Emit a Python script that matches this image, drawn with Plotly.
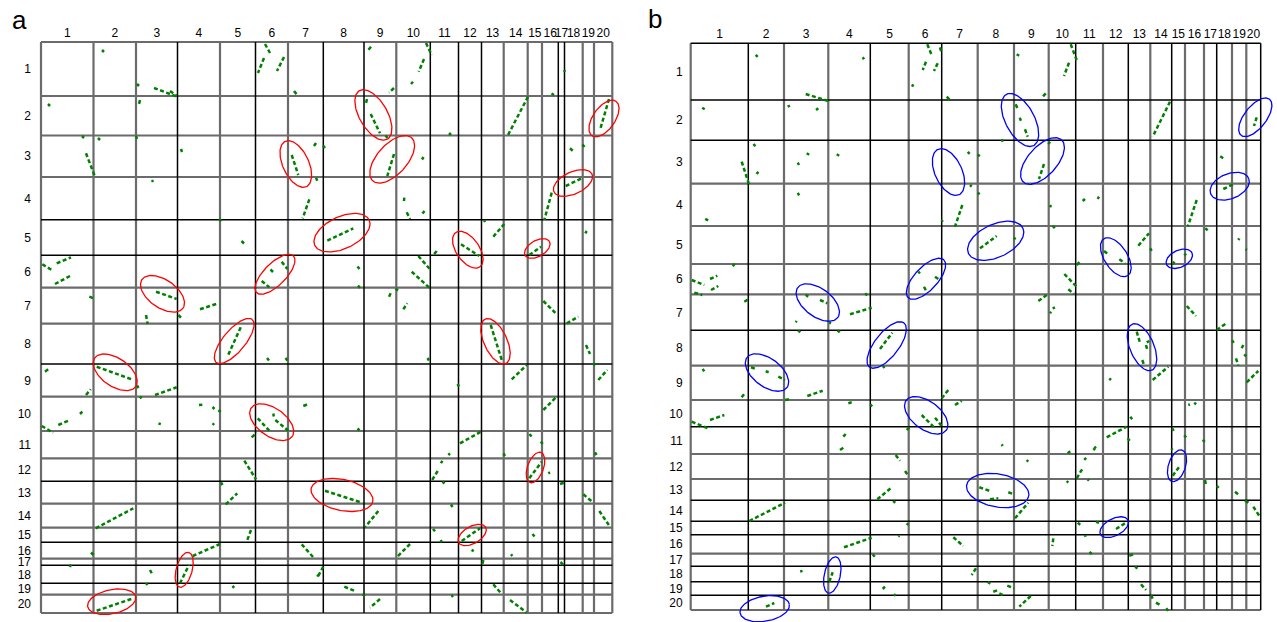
import numpy as np
import plotly.graph_objects as go

W, H = 1277, 622
chroms = [str(i) for i in range(1, 21)]

# chromosome lengths (arbitrary genome units) for both panels
a_x_len = [52.5, 42.5, 41.5, 42.5, 35.5, 32.5, 35.3, 40.7, 32.3, 34.0,
           28.2, 23.0, 22.2, 24.0, 14.3, 16.3, 6.2, 18.2, 11.3, 18.3]
a_y_len = [54.0, 39.5, 41.5, 42.7, 35.6, 32.4, 36.0, 40.3, 32.7, 34.3,
           27.3, 23.0, 22.4, 24.0, 14.6, 16.4, 6.6, 18.0, 11.4, 18.3]
b_x_len = [57.6, 35.7, 44.3, 42.0, 38.4, 33.0, 36.0, 36.3, 34.7, 27.0,
           27.3, 25.3, 22.0, 21.4, 13.3, 19.0, 12.7, 15.3, 14.3, 14.4]
b_y_len = [56.7, 40.3, 43.4, 42.3, 38.0, 30.3, 36.0, 35.4, 34.3, 26.7,
           27.3, 25.0, 21.3, 21.0, 13.4, 19.0, 12.6, 15.4, 13.6, 14.7]

# syntenic blocks (x0, y0, x1, y1) in genome coordinates
a_segments = [
    (61, 8, 63, 10), (224, 2, 229, 11), (223, 16, 217, 31), (243, 15, 236, 29),
    (96, 42, 98, 44), (113, 46, 137, 55), (129, 49, 136, 54), (253, 49, 257, 54),
    (7, 62, 9, 64), (99, 58, 98, 62), (41, 94, 43, 96), (57, 96, 59, 98),
    (95, 94, 96, 97), (140, 107, 141, 110), (275, 101, 273, 104), (282, 103.5, 284, 106),
    (330, 4.7, 326.7, 8.7), (385, 1, 390.7, 13), (383, 17, 377.7, 29.7), (372, 39.7, 370, 42),
    (353, 46, 348, 50.7), (326, 57, 325, 61), (329.7, 72, 339, 91.3), (344.5, 93.5, 346.5, 96),
    (487, 54.7, 467, 93), (510.5, 51.5, 513, 53), (523, 28, 524, 30), (568, 57, 559, 88),
    (410, 91, 408, 93), (529, 106.3, 531.7, 108.7), (541.5, 102.5, 543.5, 105), (353, 112, 346.3, 134),
    (382.5, 115, 381, 117.5), (45, 111.3, 54, 134.7), (111, 138, 112, 140), (250.7, 113, 257.3, 133),
    (275, 135.7, 276.3, 138.7), (268.3, 157.3, 261.7, 176.3), (178, 177, 180.5, 179),
    (200.5, 199, 203, 201.5), (363.3, 155.7, 363, 159), (365.7, 170.3, 369, 177),
    (383.5, 169, 381.5, 171.5), (286.3, 198.7, 312.3, 186.3), (443, 178, 444, 180),
    (452.3, 194.7, 463.3, 182), (420, 202.3, 438.3, 214), (488.3, 213, 500, 204.7),
    (510.7, 150.7, 503.3, 178), (524.7, 144, 540.7, 136.3), (545.7, 189, 544.3, 191.3),
    (1.3, 222.3, 10.7, 228), (15.7, 221.3, 30, 215.3), (14, 242, 29, 234),
    (48.3, 254.7, 52.3, 256.3), (115, 249.7, 135.7, 257), (137.3, 273, 140, 275.7),
    (105, 273, 106.7, 282), (159, 267.3, 177.3, 261.3), (220.7, 239, 228.3, 245.3),
    (229.5, 227.5, 232, 230), (240.7, 219.7, 246.3, 227), (377.3, 214, 389, 227.3),
    (395.7, 209, 391.7, 214), (316.5, 224.5, 318.5, 227), (317, 243.5, 319, 246),
    (370.7, 229.7, 389, 246.3), (348, 254.7, 349.7, 251.3), (354.5, 246.5, 357, 248.5),
    (362.3, 267.3, 366.3, 261.3), (502.3, 259, 515.7, 272.3), (525.7, 281.3, 537.3, 274.7),
    (199.7, 285.3, 186.7, 314), (226, 316, 228, 318.5), (244.5, 316, 246.5, 318.5),
    (449.7, 283, 461.3, 319.7), (545, 303, 549, 312), (552, 321, 554, 323.5),
    (470.7, 337.3, 485.7, 323), (557.3, 338, 566.3, 328), (386.5, 316, 388, 318.5),
    (4, 329.7, 8.3, 326.3), (55.7, 324.7, 90.7, 337.3), (96, 343.5, 97.5, 346),
    (45, 353, 49.7, 347.3), (99, 354.5, 100.5, 356.5), (114, 353, 135.7, 345.3),
    (416.5, 342, 418, 344.5), (0.7, 384, 12.3, 390.7), (17.3, 383, 29, 378),
    (39, 372, 41.3, 369.7), (118.3, 383, 119, 380.7), (158, 363, 161.3, 362.7),
    (171.5, 365, 173.5, 367), (177.5, 368, 179.5, 370), (171.7, 383, 173, 381.3),
    (216.7, 376.3, 228.3, 388.7), (232.3, 371.5, 232.8, 374.5), (234.3, 378, 247.3, 388.7),
    (210.7, 395.3, 215.7, 390.7), (262.3, 364, 267.3, 362), (502.3, 368, 515, 355.3),
    (316.5, 386.5, 318.5, 388.5), (419, 401.3, 440, 389.7), (488.5, 392, 490.5, 394.5),
    (500, 399.5, 501.5, 402), (203.3, 418.7, 215, 437.3), (180, 440.5, 181.5, 443),
    (184.7, 462.3, 196.3, 451.3), (54.7, 486.3, 92.3, 466.3), (210, 488, 205.7, 499.7),
    (50, 510.5, 52.5, 513), (28, 523.3, 30.5, 524.2), (139, 541.3, 148, 523),
    (151.7, 514, 179, 502), (109, 528, 110.7, 531.3), (105, 541, 106.5, 543),
    (191.3, 545.7, 193.3, 544), (55.7, 568.7, 92.3, 556.3), (260.7, 502.3, 272.3, 515.3),
    (276.3, 534.7, 277.3, 533), (409, 411.3, 407.3, 413), (462.5, 411.5, 464, 414),
    (554, 410.5, 555.5, 413), (401.3, 418.7, 400, 421.3), (396.7, 429, 390.7, 438.7),
    (401.5, 439.5, 403.5, 441.5), (488.3, 436.3, 500.7, 419.7), (509, 430.3, 507.3, 431.3),
    (519, 442, 524, 440.3), (284, 448.7, 320.7, 460.7), (542.3, 452.3, 552.3, 460.7),
    (337.3, 469, 324, 485.3), (410, 462.5, 411.5, 465), (558.3, 469, 569, 484.7),
    (392, 487, 394, 489.3), (399.7, 498, 401, 500.3), (420.7, 499, 439, 486.3),
    (491.5, 492, 493.5, 494.5), (369, 502, 355.7, 515.3), (432.3, 507.3, 431, 509.7),
    (470, 512.3, 471.3, 514), (442.3, 518, 441, 524), (519.5, 520, 522.5, 523),
    (282.3, 524.7, 276.3, 535.7), (303.3, 544.7, 313, 548.7), (321.5, 552.5, 324, 554),
    (339, 557, 329, 565.7), (410.5, 553, 412, 555), (452.3, 542.3, 460.7, 552),
    (469, 558, 485.7, 570.7),
]

b_segments = [
    (65, 11.5, 67, 13.5), (172, 14, 173.3, 16), (236.6, 1, 241.3, 12.7), (235.3, 18.4, 232, 26.7),
    (249.3, 4, 251, 10), (247, 20, 243.3, 27.7), (222.6, 41, 221.3, 43.4), (115, 50.7, 137.6, 57.7),
    (256, 53.4, 260, 57.7), (11.5, 64.5, 14, 66), (97.6, 61.7, 98.6, 64), (125.3, 66.7, 127.6, 65),
    (63, 100.5, 64.5, 103), (116, 110, 118.5, 111.5), (146, 111, 148.5, 112.5), (326, 11, 328.5, 12.5),
    (380, 1, 386, 16.7), (378.3, 19.4, 373.3, 32.7), (355, 50, 352, 53.4), (325, 61, 327, 65.7),
    (329, 74.5, 330.2, 77.5), (334.3, 86, 337, 93.4), (311, 96, 312, 98.4), (479.3, 58.4, 462, 93.4),
    (566, 74, 563.3, 82.7), (277, 108.5, 279, 110.5), (287, 111, 289, 113),
    (357.6, 100.7, 359.3, 98.4), (529.5, 113, 532.5, 115), (51, 118.4, 58.3, 141),
    (66, 130.7, 67.6, 128.4), (107, 119.4, 108.3, 121.7), (107, 149.5, 108.5, 152), (14.5, 175.5, 17.5, 177),
    (251, 178.4, 252, 176.7), (271.6, 161.7, 264.3, 183.4), (42, 223, 44, 220.5),
    (1, 236.7, 13.6, 241.7), (19.3, 235.7, 26.6, 232.4), (20.3, 246.7, 27.6, 242.7),
    (3.6, 249.4, 11.6, 251.7), (53.6, 258.4, 57.6, 256), (229.3, 228.4, 227.6, 230),
    (244.3, 233.4, 247.6, 235.7), (233.3, 243.4, 235.3, 247.4), (174.5, 250, 176.5, 252),
    (115, 251.5, 117.5, 253.5), (129.3, 256.7, 136.6, 260), (159.3, 271, 181, 264.4),
    (106, 277.7, 105, 279), (107.5, 287, 109.5, 289), (138.3, 279, 140.3, 280),
    (147, 287, 149, 289), (189.3, 305.7, 201.6, 289.4), (192, 322.5, 194, 324.5),
    (12, 325.5, 13.5, 328), (60.3, 324, 66, 326), (75, 328, 78, 329), (87.6, 333.4, 94.3, 336.7),
    (51, 354, 53.3, 351), (94.3, 356.7, 98.6, 356), (116.6, 352.7, 132, 347.4), (157.6, 360, 161, 359),
    (179.5, 361, 181.5, 363), (1, 378.4, 17, 385), (19.3, 376.7, 33.6, 371.7),
    (231, 371.7, 243.3, 384), (244.3, 374.4, 251, 382.7), (251, 355, 257.6, 346.7),
    (216, 386.7, 218.6, 384), (152.6, 393.4, 155, 390.7), (149.3, 406.7, 152.6, 404.4),
    (353.3, 120.7, 348.3, 135.7), (279.3, 141.7, 281, 143.4), (287, 149.5, 289, 151),
    (360.3, 161.7, 359.3, 164), (362, 182.5, 364, 185), (392, 157.7, 394.3, 155.7),
    (407, 155.7, 408.3, 153.4), (506, 156.7, 497, 183.4), (514.5, 185, 517, 187),
    (532.6, 145.7, 542.6, 141), (289.3, 205, 306, 192.7), (323, 194.5, 325, 196),
    (547.6, 196.7, 548.6, 195), (555, 205.7, 556, 206.7), (413.3, 207.7, 418.6, 211.7),
    (428.6, 216, 434.3, 220), (447.6, 202.4, 458.3, 190), (459.5, 205, 461, 207.5),
    (482, 221, 483.6, 218.4), (493.5, 210.5, 495.5, 212), (386, 221.7, 389.3, 218.4),
    (373.6, 230.7, 386, 243.4), (377.6, 246, 383.3, 250.7), (347.6, 257.7, 356, 251.7),
    (359.3, 270, 360.3, 268.4), (362.6, 263.4, 363.6, 265.7), (496, 262.7, 505.3, 272.7),
    (526, 286.7, 534.6, 280.7), (446, 288.4, 449.3, 299.4), (456, 299, 458.6, 297.7),
    (455.3, 301.7, 456.6, 306.7), (451.6, 316.7, 453.3, 321.7), (541.5, 297, 543, 299.5),
    (551, 305, 552.6, 301.7), (545.3, 315, 547.6, 322.4), (553.5, 311, 555.5, 313),
    (462, 336.7, 477.6, 323.4), (556, 339, 567.6, 327.7), (418.6, 335, 420.3, 336.7),
    (264.3, 361.7, 271, 357.4), (497.6, 361.7, 499.3, 361), (503.5, 359.5, 505.5, 361),
    (439.5, 373.5, 441.5, 376), (416, 394, 436, 383.4), (311, 401, 312, 402.7),
    (404.3, 405, 402.6, 406.7), (481.5, 385, 483, 387.5), (493.5, 392, 495.5, 394),
    (512, 396.5, 514, 398.5), (437, 395, 439, 397.5), (205, 411.7, 209.3, 417.4),
    (214.3, 427.7, 217.6, 432.4), (186.6, 456, 200, 445), (202.5, 457.5, 204.5, 459.5),
    (58.6, 477.7, 94.3, 459.4), (217.6, 480, 216, 481.7), (208.6, 492.4, 207.6, 493.4),
    (153.3, 504, 181, 494.4), (182, 511, 184, 513.5), (110.3, 526.7, 111, 529),
    (138.6, 538.4, 142, 529), (192, 545.7, 194.3, 543.4), (203.3, 551, 205, 552.4),
    (75.3, 563.4, 83.6, 559.7), (377, 410, 379.5, 408), (395.5, 414.5, 393.5, 416.5),
    (403.6, 405, 405.3, 403.4), (336, 416.7, 337.6, 418.4), (386, 435, 392, 425),
    (376, 437.7, 377.6, 439.4), (397, 436, 398.3, 437.4), (482, 432.4, 488.6, 423.4),
    (481, 405, 481.6, 406.7), (514.3, 436.7, 515.3, 441.7), (526, 442.5, 528, 444.5),
    (288.6, 444, 299.3, 447.7), (299.3, 456, 307.6, 455), (317.6, 449, 323.3, 451),
    (324.3, 475, 337.6, 459.4), (544.3, 448.4, 549.3, 452.7), (554.3, 457.4, 560, 460.7),
    (562.6, 463.4, 569.5, 474), (387, 479.5, 389.5, 481.5), (405.3, 478.4, 408.3, 479.4),
    (425.3, 485.7, 434.3, 480), (394.3, 491.7, 395, 493.4), (262.6, 494, 272.6, 502.7),
    (362.6, 495, 361.6, 502.7), (399, 508.5, 401, 511), (438.6, 512.4, 443.6, 510.7),
    (444.5, 523, 446.5, 525.5), (285.3, 525, 281, 531.7), (297, 538.5, 299.5, 540.5),
    (302.6, 548.4, 307.6, 546.7), (308.6, 550, 313.3, 552.4), (316.6, 542.4, 323.3, 545),
    (340, 552.7, 328.6, 563.4), (450.3, 541, 455.3, 546.7), (460.3, 551.7, 462.6, 556.7),
    (465.3, 559.4, 469.3, 561.7), (475.5, 565, 477.5, 567.5),
]

# highlighted regions (centre x, centre y, semi-major, semi-minor, tilt in degrees)
a_ellipses = [
    (332.4, 72.9, 28, 14, 60), (563, 76.5, 21, 11, -55), (254.8, 122, 25, 13, 65),
    (351.2, 117.3, 29, 15, -48), (532, 141, 21, 11, -25), (301, 190.7, 30, 16, -25),
    (426.8, 207.7, 21, 11.5, 55), (496.3, 206.5, 14, 8, -30), (234, 232.3, 26, 11, -45),
    (121.5, 251.8, 25, 14, 35), (193.2, 299, 28, 11, -50), (454.5, 299.3, 24.5, 11.5, 65),
    (74.2, 330.3, 25, 14, 35), (230.7, 380.2, 25, 14, 35), (494.5, 425.5, 16, 8, -70),
    (301, 453, 31.5, 15.5, 12), (431.2, 493, 15.5, 8.5, -30), (143.2, 527.8, 18, 8, -75),
    (70.7, 559.7, 24.5, 12, -12),
]
b_ellipses = [
    (329.3, 76.7, 29, 14.5, 62), (564.6, 74, 23, 11, -52), (257.8, 128.7, 25, 13.5, 65),
    (351.8, 117.7, 28.5, 14.5, -48), (539, 142.9, 20.5, 12.5, -22), (305, 197.5, 30, 16.5, -25),
    (425.1, 213.9, 22, 11.5, 57), (488.6, 215.5, 14, 8.5, -25), (235.3, 235.5, 26, 11.5, -47),
    (127.1, 259.2, 25, 14, 37), (196, 301.7, 28, 12, -52), (451.3, 303.9, 25, 12, 67),
    (76.3, 329.2, 25, 14, 37), (235.5, 372, 25, 14, 37), (486.3, 422.5, 16.5, 8.5, -72),
    (307, 447.2, 31.5, 16.5, 10), (423.5, 483.9, 15.5, 8.5, -28), (141.6, 531.7, 18.5, 8, -78),
    (74, 565.4, 25, 12.5, -10),
]

# ---------------- layout / styling ----------------
GRAY = "#6b6b6b"
BLACK = "#000000"
GREEN = "rgb(0,128,0)"
FONT = "Arial, Liberation Sans, sans-serif"

panels = [
    dict(name="a", xlen=a_x_len, ylen=a_y_len, segs=a_segments, ells=a_ellipses,
         ecolor="#ff0000", origin=(41.0, 42.0),
         vcol="GGGKGKGKKGKKKGGGKKGGG", hcol="GGGGKKGGKGGGKGGKGKKGG",
         label_pos=(10, 20), ystand=9),
    dict(name="b", xlen=b_x_len, ylen=b_y_len, segs=b_segments, ells=b_ellipses,
         ecolor="#0000ff", origin=(690.7, 43.3),
         vcol="GKGGKGKGGGKGKGKGGKGGK", hcol="KKKGGGGKGGKGGKKKGKKKG",
         label_pos=(646, 19), ystand=7),
]

fig = go.Figure()
layout = dict(width=W, height=H, margin=dict(l=0, r=0, t=0, b=0),
              paper_bgcolor="white", plot_bgcolor="rgba(0,0,0,0)",
              showlegend=False, annotations=[])

for i, p in enumerate(panels):
    ox, oy = p["origin"]
    xb = np.concatenate([[0], np.cumsum(p["xlen"])])
    yb = np.concatenate([[0], np.cumsum(p["ylen"])])
    xt, yt = xb[-1], yb[-1]
    xmid = (xb[:-1] + xb[1:]) / 2
    ymid = (yb[:-1] + yb[1:]) / 2

    main_x = f"xaxis{'' if i == 0 else 2}"
    main_y = f"yaxis{'' if i == 0 else 2}"
    ov_n = 3 + i
    # main axes (only carry the chromosome tick labels)
    layout[main_x] = dict(domain=[ox / W, (ox + xt) / W], range=[0, xt], side="top",
                          tickmode="array", tickvals=xmid, ticktext=chroms, tickangle=0,
                          showgrid=False, zeroline=False, showline=False, ticks="",
                          ticklabelstandoff=2,
                          tickfont=dict(family=FONT, size=12, color="black"),
                          anchor="y" if i == 0 else "y2", fixedrange=True)
    layout[main_y] = dict(domain=[1 - (oy + yt) / H, 1 - oy / H], range=[yt, 0],
                          tickmode="array", tickvals=ymid, ticktext=chroms,
                          showgrid=False, zeroline=False, showline=False, ticks="",
                          ticklabelstandoff=p["ystand"],
                          tickfont=dict(family=FONT, size=12, color="black"),
                          anchor="x" if i == 0 else "x2", fixedrange=True)
    fig.add_trace(go.Scatter(x=[None], y=[None], xaxis="x" if i == 0 else "x2",
                             yaxis="y" if i == 0 else "y2", mode="markers",
                             hoverinfo="skip"))
    # overlay axes spanning the whole page with identical scaling (no clipping)
    layout[f"xaxis{ov_n}"] = dict(domain=[0, 1], range=[-ox, W - ox], visible=False,
                                  anchor=f"y{ov_n}", fixedrange=True)
    layout[f"yaxis{ov_n}"] = dict(domain=[0, 1], range=[H - oy, -oy], visible=False,
                                  anchor=f"x{ov_n}", fixedrange=True)
    xa, ya = f"x{ov_n}", f"y{ov_n}"

    # chromosome boundary grid lines
    for kind, width in (("G", 2.2), ("K", 1.5)):
        gx, gy = [], []
        for j, c in enumerate(p["vcol"]):
            if c == kind:
                gx += [xb[j], xb[j], None]
                gy += [0, yt, None]
        for j, c in enumerate(p["hcol"]):
            if c == kind:
                gx += [0, xt, None]
                gy += [yb[j], yb[j], None]
        fig.add_trace(go.Scatter(x=gx, y=gy, xaxis=xa, yaxis=ya, mode="lines",
                                 line=dict(color=GRAY if kind == "G" else BLACK, width=width),
                                 hoverinfo="skip"))

    # syntenic blocks
    sx, sy = [], []
    for (x0, y0, x1, y1) in p["segs"]:
        sx += [x0, x1, None]
        sy += [y0, y1, None]
    fig.add_trace(go.Scatter(x=sx, y=sy, xaxis=xa, yaxis=ya, mode="lines",
                             line=dict(color=GREEN, width=2.5, dash="4px,2.5px"),
                             hoverinfo="skip"))

    # highlighted ellipses
    t = np.linspace(0, 2 * np.pi, 120)
    ex, ey = [], []
    for (cx, cy, ra, rb, ang) in p["ells"]:
        th = np.deg2rad(ang)
        ex += list(cx + ra * np.cos(th) * np.cos(t) - rb * np.sin(th) * np.sin(t)) + [None]
        ey += list(cy + ra * np.sin(th) * np.cos(t) + rb * np.cos(th) * np.sin(t)) + [None]
    fig.add_trace(go.Scatter(x=ex, y=ey, xaxis=xa, yaxis=ya, mode="lines",
                             line=dict(color=p["ecolor"], width=1.3), hoverinfo="skip"))

    lx, ly = p["label_pos"]
    layout["annotations"].append(dict(text=p["name"], xref="paper", yref="paper",
                                      x=lx / W, y=1 - ly / H, xanchor="left", yanchor="middle",
                                      showarrow=False,
                                      font=dict(family=FONT, size=26, color="black")))

fig.update_layout(**layout)
fig.write_html("out.html")
